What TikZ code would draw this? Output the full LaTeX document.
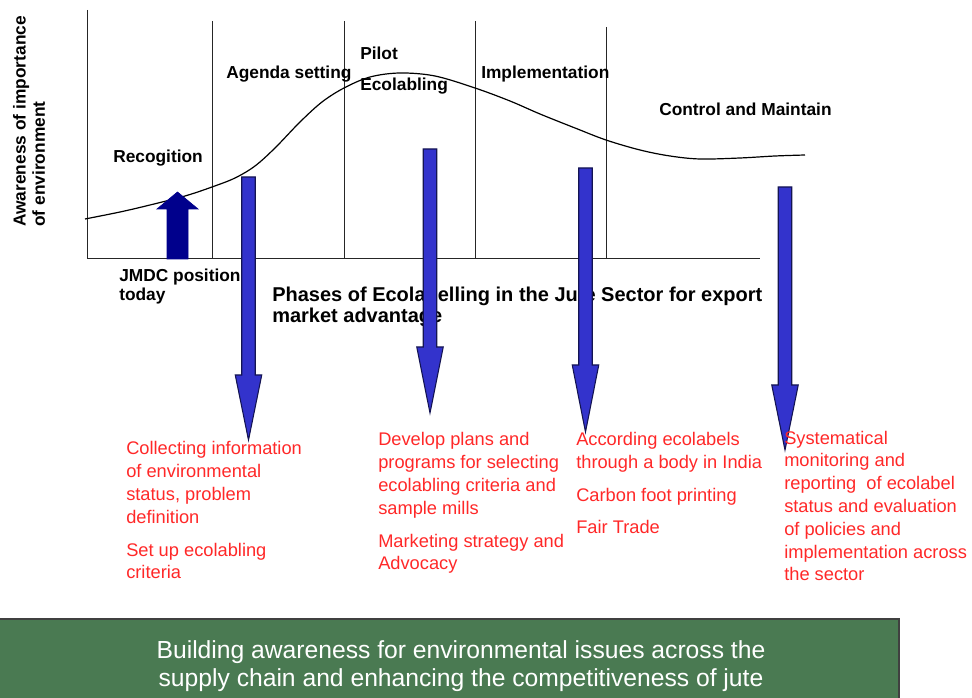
\documentclass[tikz,border=0pt]{standalone}
\usepackage{fontspec}
\setmainfont{Liberation Sans}
\usetikzlibrary{arrows}
\definecolor{notered}{RGB}{255,40,40}
\definecolor{arrowblue}{RGB}{51,51,204}
\definecolor{arrownavy}{RGB}{0,0,140}
\definecolor{bannergreen}{RGB}{74,122,82}
\tikzset{
	phase/.style = {anchor=base west, inner sep=0pt, align=left, text=black,
		font=\fontsize{13}{14.4}\selectfont\bfseries},
	title1/.style = {phase, font=\fontsize{15}{15.75}\selectfont\bfseries},
	note1/.style = {anchor=base west, inner sep=0pt, align=left, text=notered,
		font=\fontsize{13.7}{17.1}\selectfont},
	divider/.style = {draw=black!85, line width=0.75pt},
	barrow/.style = {fill=arrowblue, draw=black!60!arrowblue, line width=0.8pt},
	uparrow/.style = {fill=arrownavy, draw=arrownavy, line width=0.5pt},
	banner/.style = {fill=bannergreen, draw=black!75, line width=1.2pt}
}

\begin{document}
\begin{tikzpicture}[x=0.75pt, y=-0.75pt]
\useasboundingbox (0,0) rectangle (972,698);
%----------------- Axes and phases --------------
\coordinate (ytop) at (87,10);
\coordinate (xend) at (760,259);
\draw[divider] (ytop) |- (xend);
\foreach \px/\py in {212/21, 344/21, 475/21, 606/27}
	\draw[divider] (\px,\py) -- (\px,259);
\draw[line width=0.9pt] plot[smooth, tension=0.55] coordinates {
	(85,219) (120,212) (150,205) (185,196) (212,187) (235,178) (255,166)
	(275,148) (300,122) (322,102) (344,88) (370,77) (400,73) (435,76)
	(475,88) (510,101) (540,114) (575,128) (606,140) (640,150) (670,156)
	(700,159) (740,158) (775,156) (805,155)};
\node (aw) [phase, anchor=west, align=left, rotate=90] at (29,227)
	{Awareness of importance\\of environment};
\node (rec) [phase] at (113,163) {Recogition};
\node (ag) [phase] at (226,79) {Agenda setting};
\node (pi) [phase] at (360,60) {Pilot};
\node (eco) [phase] at (360,91) {Ecolabling};
\node (imp) [phase] at (481,79) {Implementation};
\node (ctl) [phase] at (659,116) {Control and Maintain};
% multi-line nodes sit on the baseline of their last line
\node (jmdc) [phase] at (119,301) {JMDC position\\today};
\node (ttl) [title1] at (272,323) {Phases of Ecolabelling in the Jute Sector for export\\market advantage};
%----------------- Arrows --------------
\draw[uparrow] (167,259) -- (167,209) -- (157,209) -- (177.5,192) -- (198,209)
	-- (188,209) -- (188,259) -- cycle;
\foreach \ax/\at/\ab/\atip in {248.5/177/375/440, 430/149/347/413,
		585.5/168/365/432, 785/187/385/450}
	\draw[barrow] (\ax-6.75,\at) -- (\ax+6.75,\at) -- (\ax+6.75,\ab)
		-- (\ax+13.25,\ab) -- (\ax,\atip) -- (\ax-13.25,\ab) -- (\ax-6.75,\ab) -- cycle;
%----------------- Notes --------------
\node (n1) [note1] at (126,579) {Collecting information\\of environmental\\status, problem\\definition\\[7.5pt]Set up ecolabling\\criteria};
\node (n2) [note1] at (378,570) {Develop plans and\\programs for selecting\\ecolabling criteria and\\sample mills\\[7.5pt]Marketing strategy and\\Advocacy};
\node (n3) [note1] at (576,534) {According ecolabels\\through a body in India\\[7.5pt]Carbon foot printing\\[7.5pt]Fair Trade};
\node (n4) [note1] at (784,581) {Systematical\\monitoring and\\reporting\ \ of ecolabel\\status and evaluation\\of policies and\\implementation across\\the sector};
%----------------- Banner --------------
\path[banner] (-5,619) rectangle (899,705);
\node (bn) [align=center, text=white, inner sep=0pt,
	font=\fontsize{18.5}{21.5}\selectfont] at (461,666)
	{Building awareness for environmental issues across the\\supply chain and enhancing the competitiveness of jute};
\end{tikzpicture}
\end{document}
